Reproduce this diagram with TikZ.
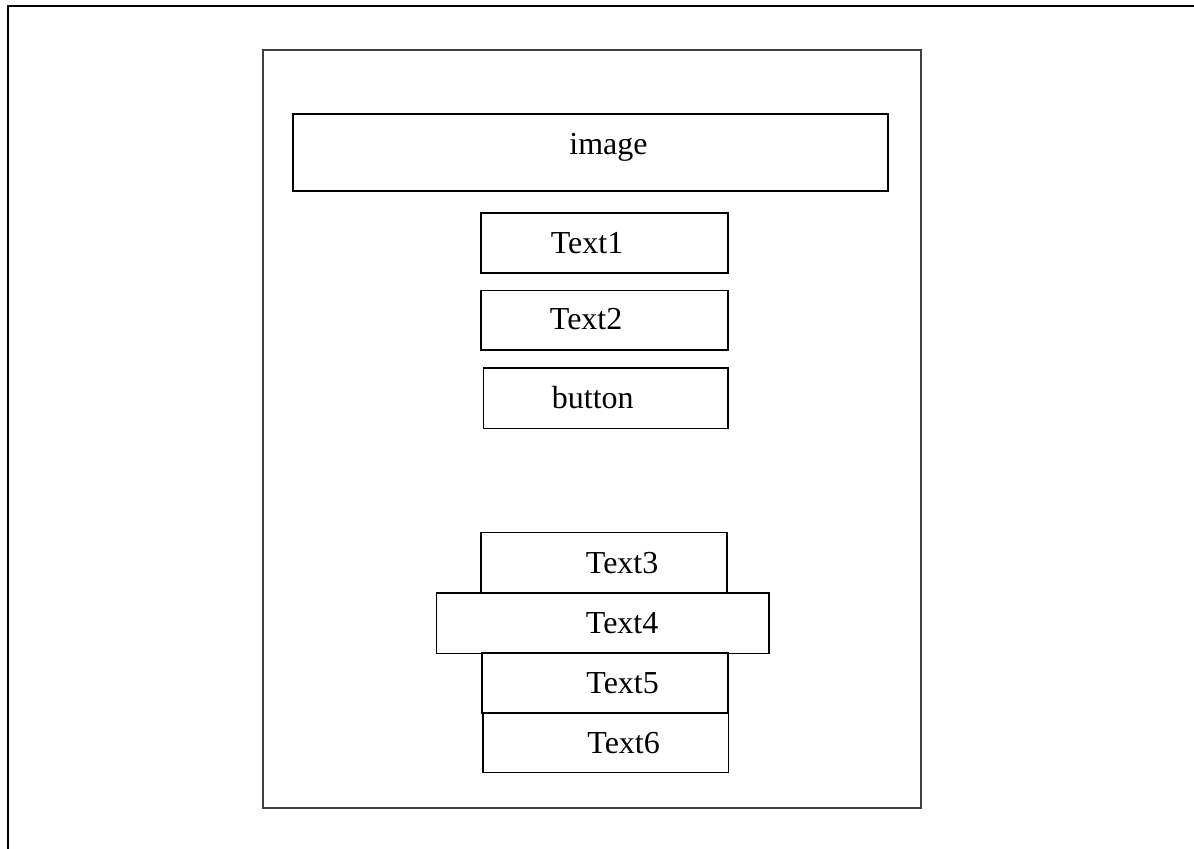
\documentclass[tikz,border=0pt]{standalone}
\usepackage{fontspec}
\setmainfont{Liberation Serif}
\begin{document}
\begin{tikzpicture}[x=0.5pt,y=-0.5pt,
  outerline/.style={line width=1.2pt, black},
  frameline/.style={line width=0.7pt, draw=black!75},
  boxline/.style={line width=0.55pt, draw=black},
  lbl/.style={font=\fontsize{16}{19}\selectfont, inner sep=0pt, anchor=base west}]
\useasboundingbox (0,0) rectangle (1194,849);
% outer frame (top and left edges)
\draw[outerline] (1194,6) -- (8,6) -- (8,849);
% inner frame
\draw[frameline] (263,50) rectangle (921,808);
% boxes
\draw[boxline] (293,114) rectangle (888,191);
\draw[boxline] (481,213) rectangle (728,273);
\draw[boxline] (481,290.5) rectangle (728,350);
\draw[boxline] (483.5,368) rectangle (728,428.5);
\draw[boxline] (481,532.5) rectangle (727,592.5);
\draw[boxline] (482,653) rectangle (728,713);
\draw[boxline] (483,713) rectangle (728.5,772.5);
\draw[boxline] (436.5,593) rectangle (769,653.5);
% labels
\node[lbl] (image) at (569,154.3) {image};
\node[lbl] (t1) at (550.5,253.3) {Text1};
\node[lbl] (t2) at (549.5,330) {Text2};
\node[lbl] (btn) at (551.5,408.3) {button};
\node[lbl] (t3) at (585.5,573.3) {Text3};
\node[lbl] (t4) at (585.5,633.3) {Text4};
\node[lbl] (t5) at (586,693.3) {Text5};
\node[lbl] (t6) at (587,753.3) {Text6};
\end{tikzpicture}
\end{document}
